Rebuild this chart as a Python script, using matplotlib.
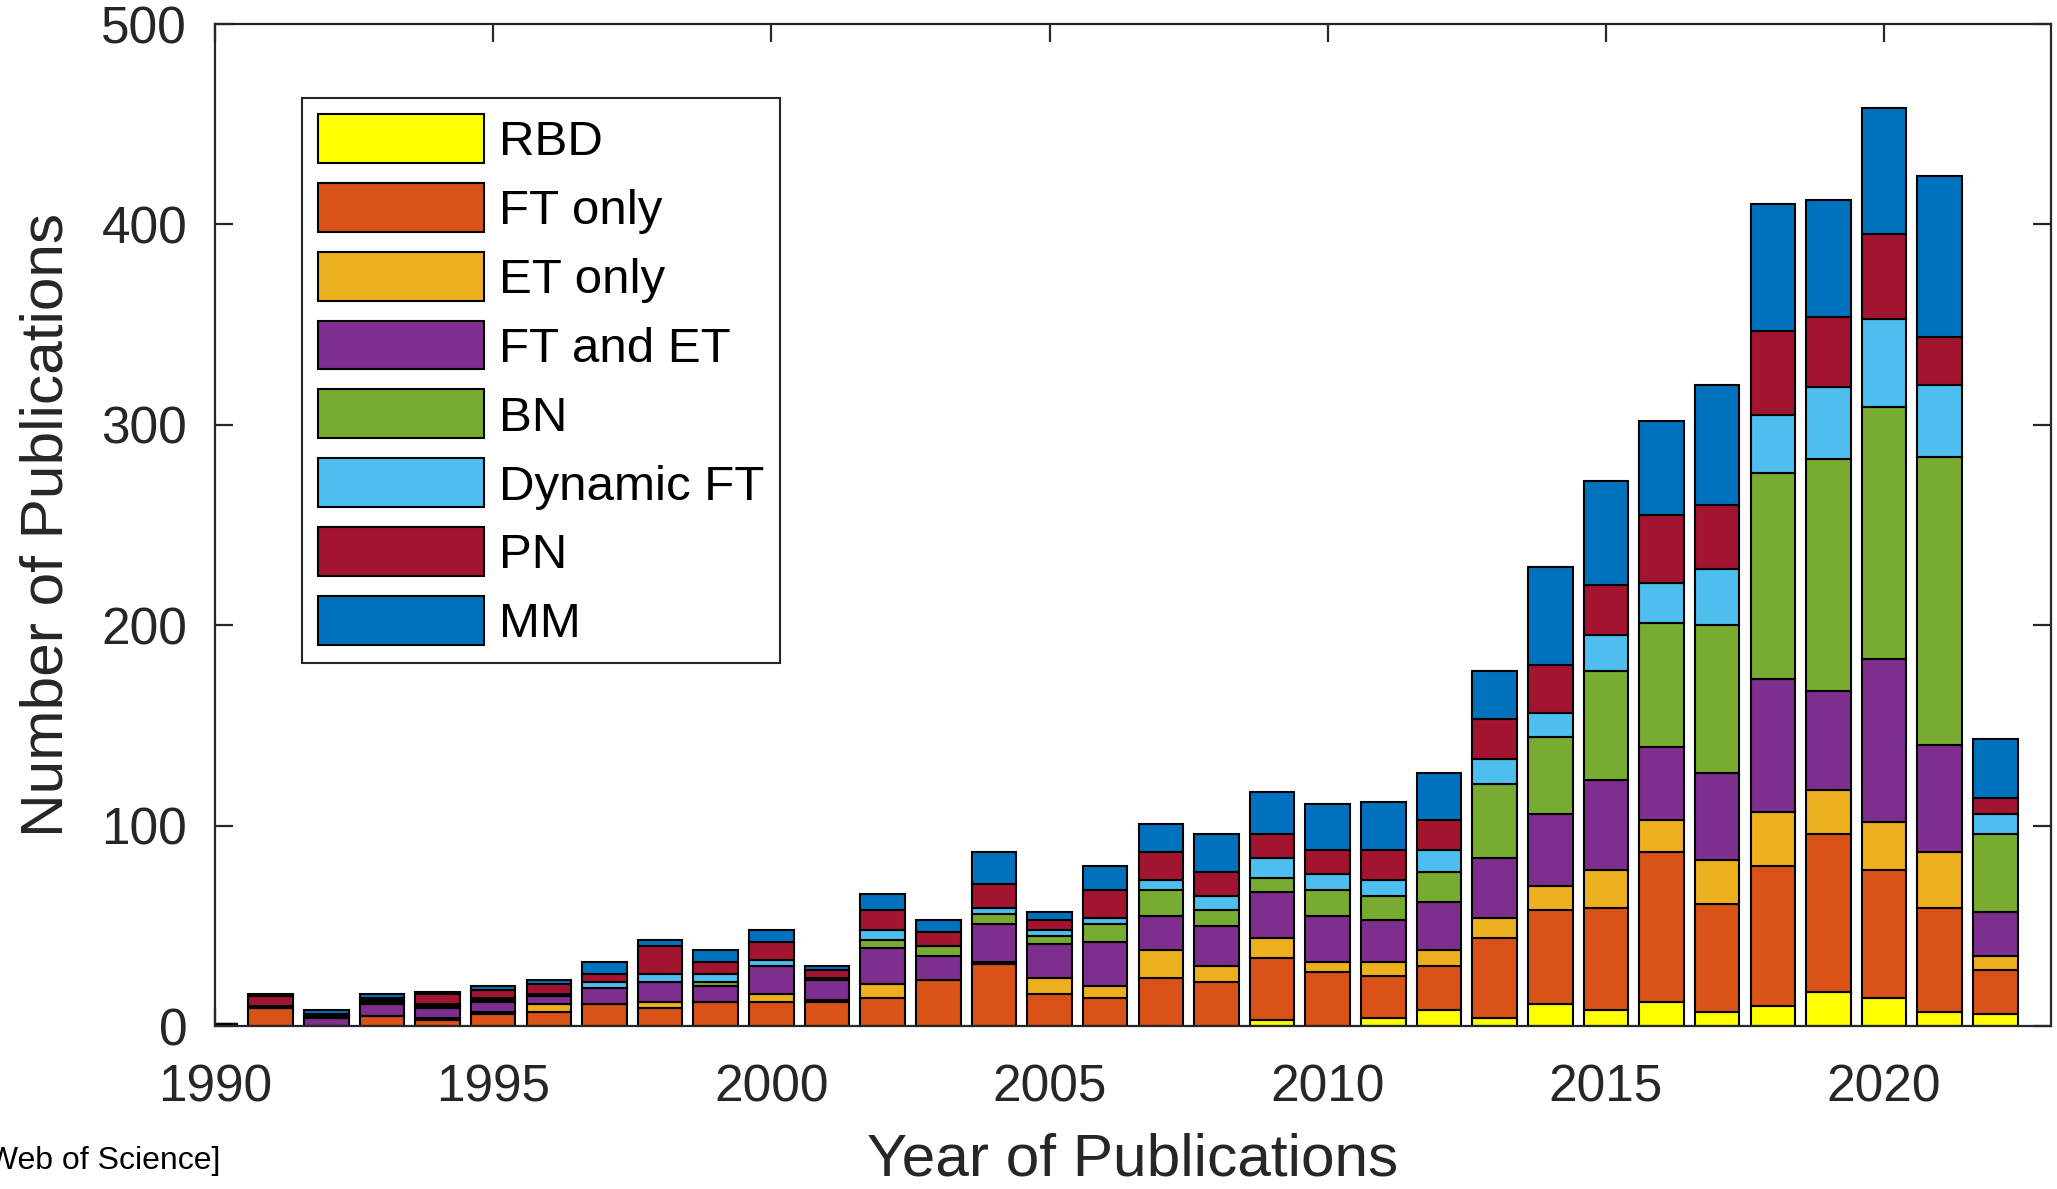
import matplotlib
matplotlib.use("Agg")
import matplotlib.pyplot as plt
import numpy as np

plt.rcParams['font.family'] = ['Liberation Sans', 'DejaVu Sans']

years = list(range(1990, 2023))

series_names = ["RBD", "FT only", "ET only", "FT and ET", "BN", "Dynamic FT", "PN", "MM"]

rbd = [0, 0, 0, 0, 0, 0, 0, 0, 0, 0, 0, 0, 0, 0, 0, 0, 0, 0, 0, 3, 0, 4, 8,
       4, 11, 8, 12, 7, 10, 17, 14, 7, 6]
ft_only = [1, 9, 0, 5, 3, 6, 7, 11, 9, 12, 12, 12, 14, 23, 31, 16, 14, 24, 22, 31, 27, 21, 22,
           40, 47, 51, 75, 54, 70, 79, 64, 52, 22]
et_only = [0, 0, 0, 0, 1, 1, 4, 0, 3, 0, 4, 1, 7, 0, 1, 8, 6, 14, 8, 10, 5, 7, 8,
           10, 12, 19, 16, 22, 27, 22, 24, 28, 7]
ft_and_et = [0, 1, 4, 6, 5, 5, 4, 8, 10, 8, 14, 10, 18, 12, 19, 17, 22, 17, 20, 23, 23, 21, 24,
             30, 36, 45, 36, 43, 66, 49, 81, 53, 22]
bn = [0, 0, 0, 1, 1, 1, 0, 0, 0, 2, 0, 0, 4, 5, 5, 4, 9, 13, 8, 7, 13, 12, 15,
      37, 38, 54, 62, 74, 103, 116, 126, 144, 39]
dynamic_ft = [0, 0, 1, 1, 1, 1, 1, 3, 4, 4, 3, 1, 5, 0, 3, 3, 3, 5, 7, 10, 8, 8, 11,
              12, 12, 18, 20, 28, 29, 36, 44, 36, 10]
pn = [0, 5, 1, 1, 5, 4, 5, 4, 14, 6, 9, 4, 10, 7, 12, 5, 14, 14, 12, 12, 12, 15, 15,
      20, 24, 25, 34, 32, 42, 35, 42, 24, 8]
mm = [0, 1, 2, 2, 1, 2, 2, 6, 3, 6, 6, 2, 8, 6, 16, 4, 12, 14, 19, 21, 23, 24, 23,
      24, 49, 52, 47, 60, 63, 58, 63, 80, 29]

colors = ["#FFFF00", "#D95319", "#EDB120", "#7E2F8E", "#77AC30", "#4DBEEE", "#A2142F", "#0072BD"]

x_ticks = [1990, 1995, 2000, 2005, 2010, 2015, 2020]
y_ticks = [0, 100, 200, 300, 400, 500]

W, H = 2057, 1189
fig = plt.figure(figsize=(W / 100, H / 100), dpi=100)
ax = fig.add_axes([215 / W, 1 - 1026 / H, (2051 - 215) / W, (1026 - 24) / H])

axcol = "#262626"
data = [rbd, ft_only, et_only, ft_and_et, bn, dynamic_ft, pn, mm]
bottom = np.zeros(len(years))
handles = []
for name, vals, c in zip(series_names, data, colors):
    v = np.array(vals, dtype=float)
    b = ax.bar(years, v, width=0.8, bottom=bottom, color=c, edgecolor="black",
               linewidth=1.5, label=name, zorder=2)
    handles.append(b)
    bottom += v

ax.set_xlim(1990, 2023)
ax.set_ylim(0, 500)
ax.set_xticks(x_ticks)
ax.set_yticks(y_ticks)

for s in ax.spines.values():
    s.set_color(axcol)
    s.set_linewidth(1.6)
    s.set_zorder(3)

ax.tick_params(axis="both", direction="in", length=13, width=1.6, color=axcol,
               labelcolor=axcol, labelsize=37, top=True, right=True)
ax.tick_params(axis="y", pad=20)
ax.tick_params(axis="x", pad=27)

ax.set_xlabel("Year of Publications", fontsize=43.5, color=axcol)
ax.set_ylabel("Number of Publications", fontsize=43.5, color=axcol)
ax.xaxis.label.set_va("baseline")
ax.xaxis.set_label_coords(0.5, -(1176 - 1026) / 1002)
ax.yaxis.label.set_va("center")
ax.yaxis.set_label_coords((47 - 215) / 1836, 0.5)

leg = ax.legend(handles=handles, loc="upper left",
                bbox_to_anchor=(302 / W, 1 - 98 / H), bbox_transform=fig.transFigure,
                fontsize=35.5, frameon=True, fancybox=False, framealpha=1,
                edgecolor=axcol, handlelength=3.37, handleheight=1.15,
                handletextpad=0.3, labelspacing=0.36, borderpad=0.32,
                borderaxespad=0)
leg.get_frame().set_linewidth(1.5)
for t in leg.get_texts():
    t.set_color("black")

fig.text(220 / W, 1 - 1169 / H, "[Web of Science]", ha="right", va="baseline",
         fontsize=23, color="black")

fig.savefig("out.png", dpi=100)
